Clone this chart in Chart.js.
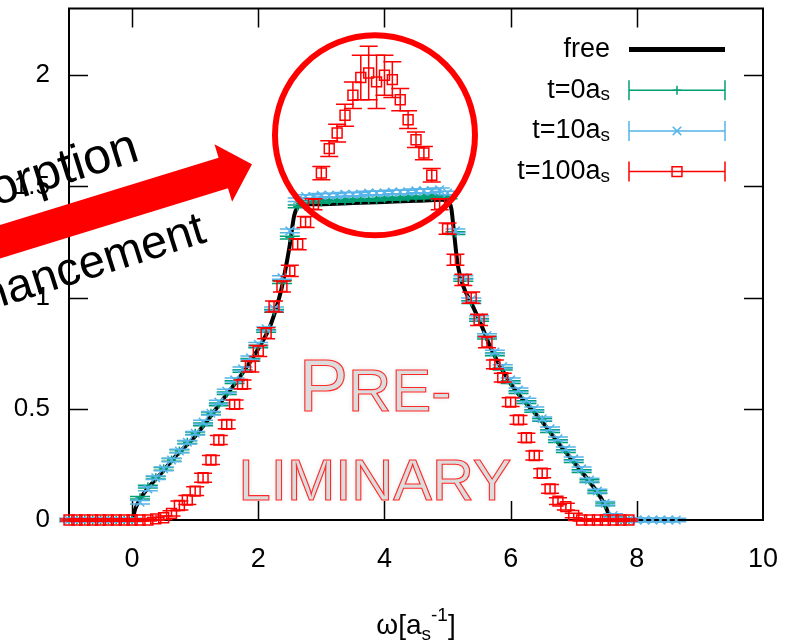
<!DOCTYPE html>
<html><head><meta charset="utf-8">
<script src="https://cdn.jsdelivr.net/npm/chart.js@4.4.0/dist/chart.umd.min.js"></script>
<style>html,body{margin:0;padding:0;background:#fff;}canvas{display:block;}</style>
</head><body>
<canvas id="c" width="786" height="643"></canvas>
<script>
// ---- data ----
const omega = [-1,-0.875,-0.75,-0.625,-0.5,-0.375,-0.25,-0.125,0,0.125,0.25,0.375,0.5,0.625,0.75,0.875,1,1.125,1.25,1.375,1.5,1.625,1.75,1.875,2,2.125,2.25,2.375,2.5,2.625,2.75,2.875,3,3.125,3.25,3.375,3.5,3.625,3.75,3.875,4,4.125,4.25,4.375,4.5,4.625,4.75,4.875,5,5.125,5.25,5.375,5.5,5.625,5.75,5.875,6,6.125,6.25,6.375,6.5,6.625,6.75,6.875,7,7.125,7.25,7.375,7.5,7.625,7.75,7.875,8,8.125,8.25,8.375,8.5,8.625];
const freeX = [-1,0,0.05,0.14,0.3,0.46,0.7,0.98,1.2,1.46,1.7,2.0,2.2,2.36,2.49,2.57,2.63,2.7,3.0,3.5,4.0,4.5,4.9,5.0,5.06,5.1,5.16,5.25,5.37,5.53,5.69,5.96,6.2,6.48,6.8,7.12,7.43,7.52,7.6,7.9];
const freeY = [0,0,0.05,0.10,0.16,0.21,0.29,0.37,0.45,0.55,0.64,0.77,0.88,1.03,1.22,1.37,1.41,1.42,1.42,1.425,1.43,1.435,1.44,1.435,1.40,1.30,1.15,1.05,0.98,0.88,0.77,0.63,0.54,0.45,0.33,0.22,0.10,0.05,0,0];
const t0 = [0,0,0,0,0,0,0,0,0,
  0.10,0.15,0.19,0.23,0.27,0.31,0.35,0.39,0.43,0.48,0.52,0.57,0.62,0.67,0.72,0.78,
  0.85,0.94,1.07,1.27,1.41,1.43,1.43,1.43,1.435,1.435,1.435,1.44,1.44,1.44,1.44,1.445,1.445,1.445,1.45,1.45,1.45,1.455,1.455,1.45,
  1.29,1.08,0.98,0.90,0.82,0.745,0.68,0.62,0.575,0.53,0.49,0.45,0.40,0.355,0.31,0.265,0.22,0.175,0.125,0.07,0.01,0,0];
const t10 = [0,0,0,0,0,0,0,0,0,
  0.08,0.14,0.19,0.23,0.27,0.31,0.35,0.39,0.44,0.48,0.53,0.58,0.63,0.68,0.73,0.79,
  0.86,0.95,1.09,1.30,1.44,1.455,1.455,1.46,1.46,1.46,1.465,1.465,1.465,1.47,1.47,1.47,1.475,1.475,1.475,1.48,1.48,1.48,1.485,1.47,
  1.30,1.09,0.99,0.91,0.83,0.755,0.69,0.63,0.585,0.54,0.50,0.455,0.41,0.365,0.32,0.275,0.23,0.18,0.13,0.075,0.02,0,0,
  0,0,0,0,0,0];
const t100 = [0,0,0,0,0,0,0,0,0,0,0,
  0.005,0.01,0.03,0.065,0.09,0.13,0.19,0.27,0.36,0.43,0.52,0.61,0.69,0.76,
  0.84,0.96,1.05,1.12,1.24,1.34,1.42,1.56,1.67,1.74,1.82,1.91,1.99,2.01,1.97,2.0,1.98,1.89,1.80,1.71,1.65,1.55,1.42,1.31,
  1.17,1.08,1.0,0.90,0.80,0.70,0.64,0.53,0.45,0.37,0.29,0.21,0.14,0.085,0.06,0.02,0,0,0,0,0,0,0];
const t100Err = [0.004,0.004,0.004,0.004,0.004,0.004,0.004,0.004,0.004,0.004,0.004,
  0.006,0.008,0.012,0.02,0.02,0.02,0.02,0.02,0.02,0.02,0.02,0.02,0.025,0.025,
  0.025,0.025,0.025,0.025,0.025,0.025,0.025,0.03,0.035,0.04,0.05,0.06,0.10,0.12,0.12,0.09,0.08,0.05,0.04,0.035,0.03,0.03,0.025,0.025,
  0.025,0.025,0.025,0.025,0.025,0.02,0.02,0.02,0.02,0.02,0.02,0.02,0.02,0.015,0.015,0.01,0.005,0.004,0.004,0.004,0.004,0.004,0.004];
const t0Err = 0.006;
const t10Err = 0.008;
const xTicks = [0,2,4,6,8,10];
const yTicks = [0,0.5,1,1.5,2];
const legendMain = ['free','t=0a','t=10a','t=100a'];
const legendSub = ['','s','s','s'];
const colors = {free:'#000000', t0:'#009e73', t10:'#56b4e9', t100:'#ff0000'};

// annotation anchors (data units)
const circleAt = [3.85, 1.73];
const arrowTail = [-3.03, 1.17];
const arrowTip = [1.90, 1.60];
const textAbs = [0.143, 1.619];
const textEnh = [1.204, 1.252];

const FONT = '"Liberation Sans", Arial, sans-serif';
const pts = ys => ys.map((v,i)=>({x: omega[i], y: v}));
const noPad = s => { s.paddingTop = 0; s.paddingBottom = 0; s.paddingLeft = 0; s.paddingRight = 0; };

const watermark = {
  id:'watermark',
  beforeDatasetsDraw(chart){
    const {ctx, scales:{x,y}} = chart;
    const cx = x.getPixelForValue(3.85);
    ctx.save();
    ctx.fillStyle = '#dcdcdc'; ctx.strokeStyle = '#ff2a2a'; ctx.lineWidth = 1.1;
    ctx.shadowColor = 'rgba(0,0,0,0.10)'; ctx.shadowBlur = 6;
    ctx.textBaseline = 'alphabetic'; ctx.textAlign = 'left';
    ctx.font = '74px ' + FONT; const wP = ctx.measureText('P').width;
    ctx.font = '60px ' + FONT; const wR = ctx.measureText('RE-').width;
    let sx = cx - (wP + wR)/2, by = y.getPixelForValue(0.49);
    ctx.font = '74px ' + FONT; ctx.fillText('P', sx, by); ctx.shadowBlur = 0; ctx.strokeText('P', sx, by);
    ctx.shadowBlur = 6;
    ctx.font = '60px ' + FONT; ctx.fillText('RE-', sx + wP, by); ctx.shadowBlur = 0; ctx.strokeText('RE-', sx + wP, by);
    ctx.shadowBlur = 6;
    ctx.font = '58px ' + FONT; ctx.textAlign = 'center';
    const by2 = y.getPixelForValue(0.09);
    ctx.fillText('LIMINARY', cx, by2); ctx.shadowBlur = 0; ctx.strokeText('LIMINARY', cx, by2);
    ctx.restore();
  }
};

const frame = {
  id:'frame',
  beforeDatasetsDraw(chart){
    const {ctx, chartArea:a, scales:{x,y}} = chart;
    ctx.save();
    ctx.strokeStyle = '#000';
    ctx.lineWidth = 1.5;
    const L = 19;
    ctx.beginPath();
    xTicks.forEach(v=>{ const p = Math.round(x.getPixelForValue(v))+0.5; if (p<=a.left+1||p>=a.right-1) return;
      ctx.moveTo(p,a.bottom); ctx.lineTo(p,a.bottom-L); ctx.moveTo(p,a.top); ctx.lineTo(p,a.top+L); });
    yTicks.forEach(v=>{ const p = Math.round(y.getPixelForValue(v))+0.5; if (p>=a.bottom-1||p<=a.top+1) return;
      ctx.moveTo(a.left,p); ctx.lineTo(a.left+L,p); ctx.moveTo(a.right,p); ctx.lineTo(a.right-L,p); });
    ctx.stroke();
    ctx.lineWidth = 2;
    ctx.strokeRect(a.left, a.top, a.right-a.left, a.bottom-a.top);
    ctx.restore();
  }
};

function drawMarker(ctx, style, x, y, r){
  ctx.beginPath();
  if (style==='cross'){ ctx.moveTo(x-r,y); ctx.lineTo(x+r,y); ctx.moveTo(x,y-r); ctx.lineTo(x,y+r); }
  else if (style==='crossRot'){ const d=r*Math.SQRT1_2; ctx.moveTo(x-d,y-d); ctx.lineTo(x+d,y+d); ctx.moveTo(x-d,y+d); ctx.lineTo(x+d,y-d); }
  else if (style==='rect'){ const s=r*Math.SQRT1_2; ctx.rect(x-s,y-s,2*s,2*s); }
  ctx.stroke();
}

const errorBars = {
  id:'errorBars',
  afterDatasetDraw(chart, args){
    const ds = chart.data.datasets[args.index];
    if (ds.errors === undefined) return;
    const {ctx, scales:{y}} = chart;
    ctx.save();
    ctx.strokeStyle = ds.pointBorderColor; ctx.lineWidth = 1.5;
    ds.data.forEach((p,i)=>{
      const e = typeof ds.errors === 'number' ? ds.errors : ds.errors[i];
      const el = args.meta.data[i];
      const px = el.x;
      const y1 = y.getPixelForValue(p.y - e), y2 = y.getPixelForValue(p.y + e);
      const c = ds.capHalf;
      ctx.beginPath();
      ctx.moveTo(px,y1); ctx.lineTo(px,y2);
      ctx.moveTo(px-c,y1); ctx.lineTo(px+c,y1);
      ctx.moveTo(px-c,y2); ctx.lineTo(px+c,y2);
      ctx.stroke();
    });
    ctx.restore();
  }
};

const legendAndTitle = {
  id:'legendAndTitle',
  afterDatasetsDraw(chart){
    const {ctx, chartArea:a, scales:{x}} = chart;
    ctx.save();
    const styles = [null,'cross','crossRot','rect'];
    const cols = [colors.free, colors.t0, colors.t10, colors.t100];
    const radii = [0,4.5,6,7];
    const x0 = a.right-134, x1 = a.right-38, xm = (x0+x1)/2, tx = a.right-153;
    for (let i=0;i<4;i++){
      const yy = a.top + 41 + i*40.7;
      ctx.fillStyle = '#000'; ctx.textBaseline = 'middle';
      let subW = 0;
      if (legendSub[i]) { ctx.font = '19px ' + FONT; subW = ctx.measureText(legendSub[i]).width; }
      ctx.font = '27px ' + FONT; ctx.textAlign = 'right';
      ctx.fillText(legendMain[i], tx - subW, yy);
      if (legendSub[i]) { ctx.font = '19px ' + FONT; ctx.textAlign='right'; ctx.fillText(legendSub[i], tx, yy+5); }
      ctx.strokeStyle = cols[i];
      if (i===0){ ctx.lineWidth = 5; ctx.beginPath(); ctx.moveTo(x0,yy); ctx.lineTo(x1,yy); ctx.stroke(); }
      else {
        ctx.lineWidth = 1.5; ctx.beginPath();
        ctx.moveTo(x0,yy); ctx.lineTo(x1,yy);
        ctx.moveTo(x0,yy-10); ctx.lineTo(x0,yy+10);
        ctx.moveTo(x1,yy-10); ctx.lineTo(x1,yy+10);
        ctx.stroke();
        drawMarker(ctx, styles[i], xm, yy, radii[i]);
      }
    }
    // x axis title: ω[a_s^-1]
    ctx.fillStyle = '#000'; ctx.textAlign = 'left'; ctx.textBaseline = 'alphabetic';
    const parts = [['ω[a',28,0],['s',19,6],['-1',19,-13],[']',28,0]];
    let tot = 0;
    parts.forEach(p=>{ ctx.font = p[1]+'px '+FONT; tot += ctx.measureText(p[0]).width; });
    let sx = x.getPixelForValue(4.5) - tot/2;
    const base = 634;
    parts.forEach(p=>{ ctx.font = p[1]+'px '+FONT; ctx.fillText(p[0], sx, base + p[2]); sx += ctx.measureText(p[0]).width; });
    ctx.restore();
  }
};

const annotations = {
  id:'annotations',
  afterDraw(chart){
    const {ctx, scales:{x,y}} = chart;
    ctx.save();
    ctx.strokeStyle = '#ff0000'; ctx.lineWidth = 6;
    ctx.beginPath();
    ctx.arc(x.getPixelForValue(circleAt[0]), y.getPixelForValue(circleAt[1]), 100, 0, Math.PI*2);
    ctx.stroke();
    const sx = x.getPixelForValue(arrowTail[0]), sy = y.getPixelForValue(arrowTail[1]);
    const tx = x.getPixelForValue(arrowTip[0]), ty = y.getPixelForValue(arrowTip[1]);
    const ang = Math.atan2(ty-sy, tx-sx), len = Math.hypot(tx-sx, ty-sy);
    ctx.save();
    ctx.translate(sx, sy); ctx.rotate(ang);
    ctx.fillStyle = '#ff0000';
    const hw = 16, hl = 30, hh = 30;
    ctx.beginPath();
    ctx.moveTo(0,-hw); ctx.lineTo(len-hl,-hw); ctx.lineTo(len-hl,-hh); ctx.lineTo(len,0);
    ctx.lineTo(len-hl,hh); ctx.lineTo(len-hl,hw); ctx.lineTo(0,hw); ctx.closePath(); ctx.fill();
    ctx.restore();
    const rot = -17.5*Math.PI/180;
    ctx.fillStyle = '#000'; ctx.textAlign = 'right'; ctx.textBaseline = 'alphabetic';
    [[textAbs,'Absorption',50],[textEnh,'enhancement',47]].forEach(([p,s,fs])=>{
      ctx.save();
      ctx.font = fs + 'px ' + FONT;
      ctx.translate(x.getPixelForValue(p[0]), y.getPixelForValue(p[1]));
      ctx.rotate(rot);
      ctx.fillText(s, 0, 0);
      ctx.restore();
    });
    ctx.restore();
  }
};

new Chart(document.getElementById('c'), {
  type: 'scatter',
  data: {
    datasets: [
      {label:'t=100as', data: pts(t100), errors: t100Err, capHalf: 9, order: 0, clip: false,
       pointStyle:'rect', pointRadius:7, pointBorderColor: colors.t100, pointBackgroundColor:'rgba(0,0,0,0)', pointBorderWidth:1.5},
      {label:'t=10as', data: pts(t10), errors: t10Err, capHalf: 10, order: 1, clip: false,
       pointStyle:'crossRot', pointRadius:6, pointBorderColor: colors.t10, pointBackgroundColor: colors.t10, pointBorderWidth:1.5},
      {label:'t=0as', data: pts(t0), errors: t0Err, capHalf: 10, order: 2, clip: false,
       pointStyle:'cross', pointRadius:4.5, pointBorderColor: colors.t0, pointBackgroundColor: colors.t0, pointBorderWidth:1.5},
      {label:'free', type:'line', data: freeX.map((v,i)=>({x:v, y:freeY[i]})), order: 3, clip: false,
       borderColor: colors.free, borderWidth: 4, pointRadius: 0, showLine: true, fill: false,
       cubicInterpolationMode: 'monotone'}
    ]
  },
  options: {
    responsive: false, animation: false, events: [],
    layout: {padding: {left: 0, top: 6, right: 23, bottom: 0}},
    plugins: {legend: {display: false}, tooltip: {enabled: false}},
    scales: {
      x: {type:'linear', position:'bottom', min:-1, max:10,
          grid:{display:false, drawTicks:false}, border:{display:false},
          afterBuildTicks: s => { s.ticks = xTicks.map(v=>({value:v})); },
          afterFit: s => { s.height = 123; noPad(s); },
          ticks:{font:{family:FONT, size:27}, color:'#000', padding:23, maxRotation:0, autoSkip:false,
                 callback: v => String(v)}},
      y: {type:'linear', position:'left', min:0, max:2.3,
          grid:{display:false, drawTicks:false}, border:{display:false},
          afterBuildTicks: s => { s.ticks = yTicks.map(v=>({value:v})); },
          afterFit: s => { s.width = 69; noPad(s); },
          ticks:{font:{family:FONT, size:26}, color:'#000', padding:19, callback: v => String(v)}}
    }
  },
  plugins: [watermark, frame, errorBars, legendAndTitle, annotations]
});
</script>
</body></html>
